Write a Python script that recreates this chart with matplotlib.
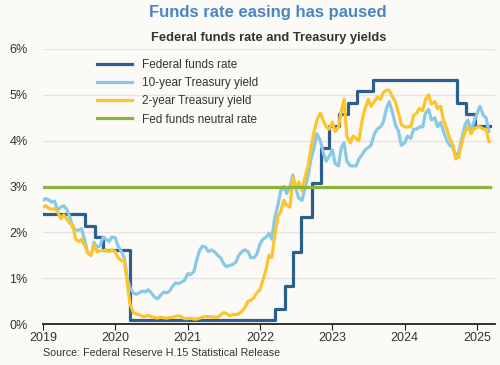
import matplotlib
matplotlib.use("Agg")
import matplotlib.pyplot as plt
import pandas as pd

plt.rcParams['font.family'] = ['Liberation Sans', 'DejaVu Sans']

# Federal funds effective rate, changes at FOMC decisions
ff_dates = ["2019-01-01", "2019-08-01", "2019-09-19", "2019-10-31",
            "2020-03-16", "2022-03-17", "2022-05-05", "2022-06-16", "2022-07-28",
            "2022-09-22", "2022-11-03", "2022-12-15", "2023-02-02", "2023-03-23",
            "2023-05-04", "2023-07-27", "2024-09-19", "2024-11-08", "2024-12-19",
            "2025-03-07"]
ff_rate = [2.40, 2.13, 1.90, 1.62,
           0.08, 0.33, 0.83, 1.58, 2.33,
           3.08, 3.83, 4.33, 4.58, 4.83,
           5.08, 5.33, 4.83, 4.58, 4.33,
           4.33]

# Treasury yields, read roughly twice a month (1st and 15th) from Jan 2019
y10 = [2.70, 2.74, 2.70, 2.66, 2.68, 2.48, 2.55, 2.58, 2.50, 2.35, 2.10, 2.05,
       2.05, 2.08, 1.80, 1.55, 1.50, 1.78, 1.68, 1.70, 1.90, 1.85, 1.80, 1.90,
       1.88, 1.70, 1.58, 1.45, 1.00, 0.80, 0.68, 0.65, 0.68, 0.72, 0.70, 0.75,
       0.68, 0.60, 0.55, 0.62, 0.70, 0.68, 0.72, 0.82, 0.90, 0.88, 0.92, 0.95,
       1.10, 1.08, 1.15, 1.40, 1.60, 1.70, 1.68, 1.58, 1.62, 1.58, 1.50, 1.45,
       1.32, 1.25, 1.28, 1.30, 1.35, 1.50, 1.58, 1.62, 1.58, 1.45, 1.45, 1.52,
       1.75, 1.85, 1.90, 1.98, 1.85, 2.30, 2.60, 2.90, 3.00, 2.85, 3.00, 3.25,
       2.95, 2.75, 2.70, 2.95, 3.25, 3.60, 3.85, 4.15, 4.00, 3.75, 3.55, 3.65,
       3.80, 3.50, 3.45, 3.85, 3.95, 3.55, 3.45, 3.45, 3.45, 3.60, 3.70, 3.80,
       3.85, 3.90, 4.15, 4.25, 4.30, 4.40, 4.70, 4.85, 4.60, 4.35, 4.20, 3.90,
       3.95, 4.10, 4.05, 4.25, 4.25, 4.30, 4.30, 4.60, 4.68, 4.45, 4.50, 4.30,
       4.40, 4.20, 4.00, 3.90, 3.85, 3.65, 3.75, 4.05, 4.35, 4.45, 4.20, 4.40,
       4.60, 4.75, 4.55, 4.50, 4.20]
y2 = [2.55, 2.58, 2.52, 2.50, 2.52, 2.45, 2.30, 2.38, 2.30, 2.20, 2.15, 1.85,
      1.80, 1.85, 1.70, 1.55, 1.50, 1.72, 1.58, 1.60, 1.60, 1.62, 1.58, 1.62,
      1.58, 1.45, 1.38, 1.40, 0.90, 0.45, 0.25, 0.22, 0.20, 0.17, 0.17, 0.19,
      0.16, 0.15, 0.13, 0.15, 0.14, 0.13, 0.14, 0.15, 0.17, 0.18, 0.16, 0.12,
      0.12, 0.13, 0.11, 0.11, 0.13, 0.15, 0.17, 0.16, 0.16, 0.15, 0.15, 0.20,
      0.25, 0.23, 0.18, 0.21, 0.21, 0.22, 0.28, 0.35, 0.50, 0.52, 0.58, 0.68,
      0.75, 0.95, 1.20, 1.50, 1.45, 1.90, 2.35, 2.45, 2.70, 2.60, 2.55, 3.20,
      2.95, 3.10, 2.90, 3.20, 3.45, 3.85, 4.20, 4.45, 4.60, 4.45, 4.30, 4.25,
      4.40, 4.20, 4.30, 4.65, 4.90, 4.10, 3.95, 4.10, 4.05, 4.00, 4.45, 4.70,
      4.90, 4.75, 4.85, 4.95, 4.90, 5.05, 5.10, 5.10, 4.95, 4.85, 4.60, 4.35,
      4.30, 4.30, 4.30, 4.55, 4.60, 4.70, 4.65, 4.90, 5.00, 4.80, 4.85, 4.70,
      4.75, 4.45, 4.25, 4.05, 3.90, 3.60, 3.65, 3.95, 4.20, 4.30, 4.15, 4.25,
      4.30, 4.30, 4.25, 4.25, 3.98]

neutral_rate = 3.0
neutral_span = ["2019-01-01", "2025-03-07"]

y_ticks = [0, 1, 2, 3, 4, 5, 6]
years = [2019, 2020, 2021, 2022, 2023, 2024, 2025]

bg = '#FBFAF7'
c_ff = '#2B5F8E'
c_10 = '#87C9E6'
c_2 = '#FCC52C'
c_n = '#8CB33F'

yield_dates = pd.date_range("2019-01-01", periods=len(y10), freq="SMS")
ff_x = pd.to_datetime(ff_dates)

fig = plt.figure(figsize=(5, 3.65), dpi=100, facecolor=bg)
ax = fig.add_axes([0.086, 0.112, 0.904, 0.754], facecolor=bg)

ax.step(ff_x, ff_rate, where='post', color=c_ff, lw=2.3, label='Federal funds rate', zorder=3)
ax.plot(yield_dates, y10, color=c_10, lw=2.3, label='10-year Treasury yield', zorder=4)
ax.plot(yield_dates, y2, color=c_2, lw=2.3, label='2-year Treasury yield', zorder=5)
ax.plot(pd.to_datetime(neutral_span), [neutral_rate, neutral_rate], color=c_n, lw=2.3,
        label='Fed funds neutral rate', zorder=6)

ax.set_ylim(0, 6)
ax.set_yticks(y_ticks)
ax.set_yticklabels([f"{v}%" for v in y_ticks])
ax.set_xlim(pd.Timestamp("2019-01-01"), pd.Timestamp("2025-04-01"))
ax.set_xticks([pd.Timestamp(f"{y}-01-01") for y in years])
ax.set_xticklabels([str(y) for y in years])

ax.grid(axis='y', color='#E6E4E0', lw=1)
ax.set_axisbelow(True)
for s in ['top', 'right', 'left']:
    ax.spines[s].set_visible(False)
ax.spines['bottom'].set_color('#222222')
ax.spines['bottom'].set_linewidth(1.3)
ax.tick_params(axis='y', length=0, pad=11, labelsize=9, colors='#333333')
ax.tick_params(axis='x', length=4, width=0.8, color='#222222', labelsize=9,
               labelcolor='#333333', pad=1.5)

leg = ax.legend(loc='upper left', bbox_to_anchor=(0.11, 0.98), frameon=False,
                fontsize=8.5, handlelength=2.9, handletextpad=0.9, labelspacing=0.52,
                borderaxespad=0)
for t in leg.get_texts():
    t.set_color('#333333')

fig.text(0.536, 0.967, "Funds rate easing has paused", ha='center', va='center',
         fontsize=12, fontweight='bold', color='#4A86C5')
fig.text(0.538, 0.896, "Federal funds rate and Treasury yields", ha='center', va='center',
         fontsize=9.3, fontweight='bold', color='#333333')
fig.text(0.086, 0.033, "Source: Federal Reserve H.15 Statistical Release", ha='left',
         va='center', fontsize=7.7, color='#333333')

fig.savefig("out.png", dpi=100, facecolor=bg)
